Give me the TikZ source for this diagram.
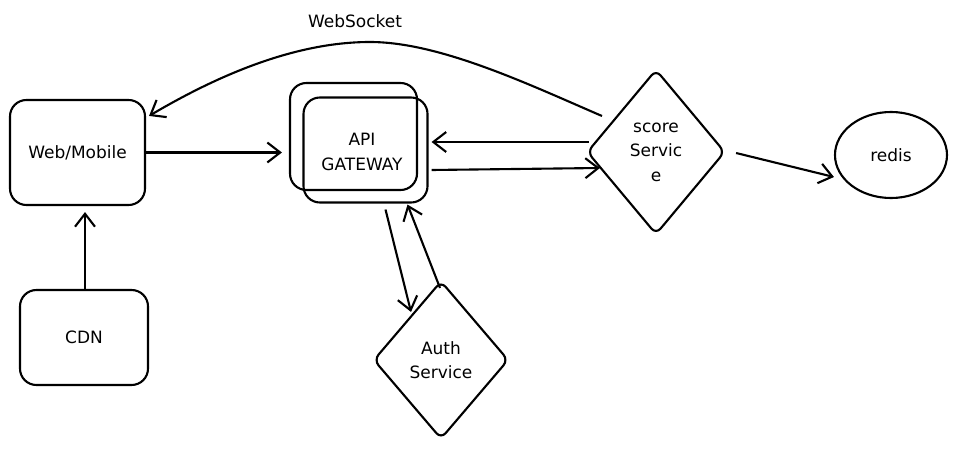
\documentclass[tikz,border=0pt]{standalone}
\usepackage{fontspec}
\setmainfont{DejaVu Sans}
\usepackage{tikz}
\usetikzlibrary{calc,arrows.meta,shapes.geometric}

\begin{document}
\begin{tikzpicture}[x=0.03cm,y=-0.03cm,
  line width=1.8pt,
  every node/.style={font=\fontsize{14.5}{21}\selectfont, align=center},
  box/.style={draw, rounded corners=14pt, inner sep=0pt},
  diam/.style={draw, diamond, rounded corners=6pt, inner sep=0pt},
  conn/.style={-{Straight Barb[length=11pt,width=17pt]}}
  ]
\useasboundingbox (0,0) rectangle (956,454);

% boxes
\node[box, minimum width=4.05cm, minimum height=3.15cm] (web) at (77.5,152.5) {Web/Mobile};
\node[box, minimum width=3.84cm, minimum height=2.85cm] (cdn) at (84,337.5) {CDN};
\node[box, minimum width=3.81cm, minimum height=3.21cm] (gwback) at (353.5,136.5) {};
\node[box, minimum width=3.72cm, minimum height=3.15cm] (gw) at (365.5,150) {};
\node (gwtext) at (362,152) {API\\GATEWAY};

% services
\node[diam, minimum width=4.14cm, minimum height=4.95cm] (score) at (656,152) {score\\Servic\\e};
\node[diam, minimum width=4.05cm, minimum height=4.74cm] (auth) at (441,360) {Auth\\Service};
\node[draw, ellipse, minimum width=3.36cm, minimum height=2.58cm] (redis) at (891,155) {redis};

\node (wslabel) at (355,21) {WebSocket};

% connectors
\draw[conn] (web.east) -- ($(gwback.west |- web.east)+(-7,0)$);
\draw[conn] ($(cdn.north)+(1,0)$) -- ($(cdn.north |- web.south)+(1,6)$);
\draw[conn] ($(score.west)+(3,-10)$) -- ($(gw.east)+(3,-8)$);
\draw[conn] ($(gw.east)+(3,20)$) -- ($(score.west)+(14,16)$);
\draw[conn] ($(score.east)+(10,1)$) -- ($(redis.west)+(0,22)$);
\draw[conn] ($(gw.south)+(20,6)$) -- ($(auth.north)+(-30,32)$);
\draw[conn] ($(auth.north)+(-1,8)$) -- ($(gw.south)+(42,1)$);

\coordinate (wsend) at (602,116);
\draw[conn] (wsend) .. controls (530,85) and (440,42) .. (370,42)
  .. controls (290,42) and (210,80) .. ($(web.north east)+(3,17)$);

\end{tikzpicture}
\end{document}
